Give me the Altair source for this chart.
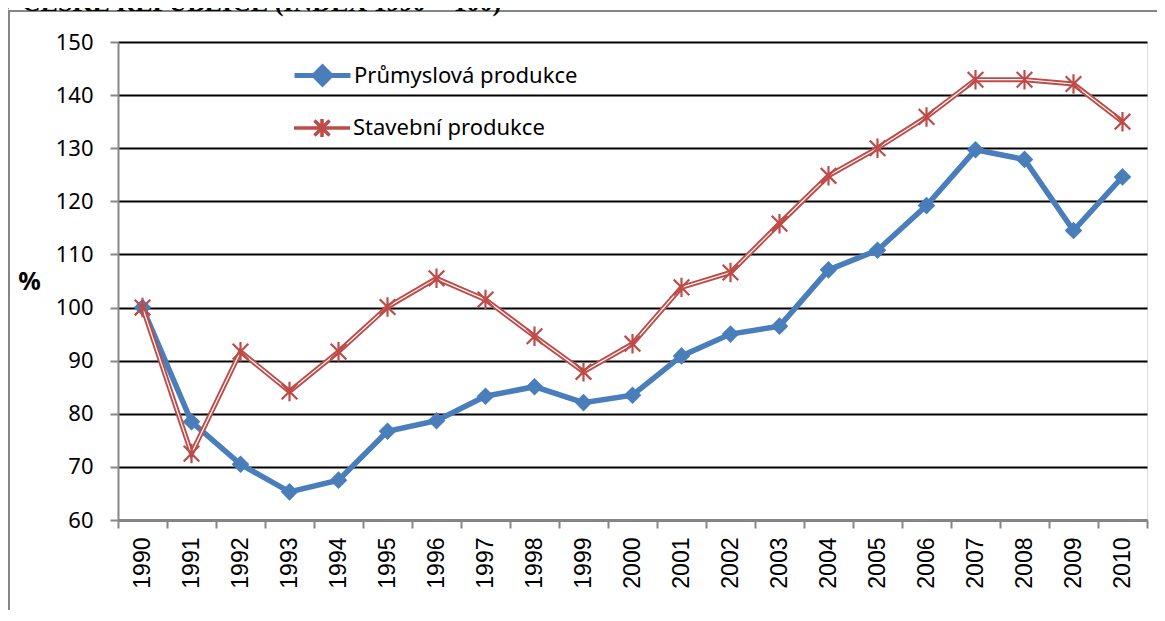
import altair as alt
import pandas as pd

years = [str(y) for y in range(1990, 2011)]
prumysl = [100.0, 78.5, 70.5, 65.3, 67.5, 76.7, 78.7, 83.3, 85.1, 82.1, 83.5,
           90.9, 95.0, 96.5, 107.1, 110.8, 119.2, 129.7, 127.9, 114.5, 124.6]
stavebni = [100.0, 72.5, 91.7, 84.2, 91.7, 100.1, 105.5, 101.5, 94.6, 87.9, 93.2,
            103.8, 106.6, 115.8, 124.8, 130.0, 135.9, 142.9, 142.9, 142.1, 135.0]
series_names = ["Průmyslová produkce", "Stavební produkce"]
y_ticks = list(range(60, 151, 10))
title_text = "V ČESKÉ REPUBLICE (INDEX 1990 = 100)"

BLUE = "#4A7EBB"
RED = "#BE4B48"
GRAY = "#868686"

df_p = pd.DataFrame({"rok": years, "hodnota": prumysl, "rada": series_names[0]})
df_s = pd.DataFrame({"rok": years, "hodnota": stavebni, "rada": series_names[1]})

W, H = 1029, 478

x_enc = alt.X(
    "rok:O",
    sort=years,
    scale=alt.Scale(type="band", paddingInner=0, paddingOuter=0),
    axis=alt.Axis(
        title=None, labelAngle=-90, labelFont="Liberation Sans", labelFontSize=23,
        labelColor="#000", labelPadding=9, tickBand="extent", tickSize=8,
        tickColor=GRAY, tickWidth=2, domainColor=GRAY, domainWidth=2, grid=False,
        labelAlign="right", labelBaseline="middle",
    ),
)
y_enc = alt.Y(
    "hodnota:Q",
    scale=alt.Scale(domain=[60, 150], nice=False, zero=False),
    axis=alt.Axis(
        values=y_ticks, title="%", titleAngle=0, titleX=-89, titleY=H / 2,
        titleAlign="center", titleBaseline="middle", titleFont="Noto Sans",
        titleFontSize=25, titleFontWeight="bold", titleColor="#000",
        labelFont="Noto Sans", labelFontSize=22, labelColor="#000", labelPadding=17,
        tickSize=8, tickColor=GRAY, tickWidth=2, domainColor=GRAY, domainWidth=2,
        grid=True, gridColor="#000", gridWidth=2,
    ),
)

blue_legend = alt.Legend(
    orient="none", legendX=174, legendY=3, title=None, padding=0,
    symbolType="M-1,0L-0.3,0L0,-0.3L0.3,0L1,0L0.3,0L0,0.3L-0.3,0Z",
    symbolSize=3136, symbolStrokeWidth=5, symbolFillColor=BLUE, symbolStrokeColor=BLUE,
    symbolOpacity=1, labelFont="Noto Sans", labelFontSize=22, labelColor="#000",
    labelOffset=1, labelLimit=400,
)
red_legend = alt.Legend(
    orient="none", legendX=174, legendY=56, title=None, padding=0,
    symbolType="M-1,0L1,0M-0.27,-0.27L0.27,0.27M-0.27,0.27L0.27,-0.27M0,-0.32L0,0.32",
    symbolSize=3136, symbolStrokeWidth=3.5, symbolFillColor="transparent",
    symbolStrokeColor=RED, symbolOpacity=1, labelFont="Noto Sans", labelFontSize=22,
    labelColor="#000", labelOffset=1, labelLimit=400,
)

blue_line = alt.Chart(df_p).mark_line(strokeWidth=5.5).encode(
    x=x_enc, y=y_enc,
    color=alt.Color("rada:N", scale=alt.Scale(domain=[series_names[0]], range=[BLUE]),
                    legend=blue_legend),
)
blue_pts = alt.Chart(df_p).mark_point(shape="diamond", filled=True, size=310,
                                      opacity=1, color=BLUE).encode(x=x_enc, y=y_enc)

red_line = alt.Chart(df_s).mark_line(strokeWidth=5).encode(
    x=x_enc, y=y_enc,
    color=alt.Color("rada:N", scale=alt.Scale(domain=[series_names[1]], range=[RED]),
                    legend=red_legend),
)
red_inner = alt.Chart(df_s).mark_line(strokeWidth=1.2, color="white").encode(x=x_enc, y=y_enc)
red_pts = alt.Chart(df_s).mark_point(
    shape="M-0.8,-0.8L0.8,0.8M-0.8,0.8L0.8,-0.8M0,-1L0,1",
    filled=False, size=380, strokeWidth=2.2, opacity=1, color=RED,
).encode(x=x_enc, y=y_enc)

border_v = alt.Chart(df_p).mark_rule(color=GRAY, strokeWidth=2).encode(
    x=alt.value(-109), y=alt.value(-31), y2=alt.value(H + 90))
border_h = alt.Chart(df_p).mark_rule(color=GRAY, strokeWidth=2).encode(
    x=alt.value(-110), x2=alt.value(W + 12), y=alt.value(-31))
title_mark = alt.Chart(pd.DataFrame({"t": [title_text]})).mark_text(
    font="Liberation Serif", fontWeight="bold", fontSize=26, align="left",
    baseline="alphabetic", color="#000",
).encode(text="t:N", x=alt.value(-121), y=alt.value(-31.5))

chart = alt.layer(
    border_v, border_h, title_mark,
    blue_line, blue_pts, red_line, red_inner, red_pts,
).resolve_scale(color="independent").properties(
    width=W, height=H,
    autosize=alt.AutoSizeParams(type="none"),
    padding={"left": 110, "top": 34, "right": 10, "bottom": 93},
).configure_view(stroke=None).configure(background="white")

chart.save("out.html", embed_options={"renderer": "svg", "actions": False})
